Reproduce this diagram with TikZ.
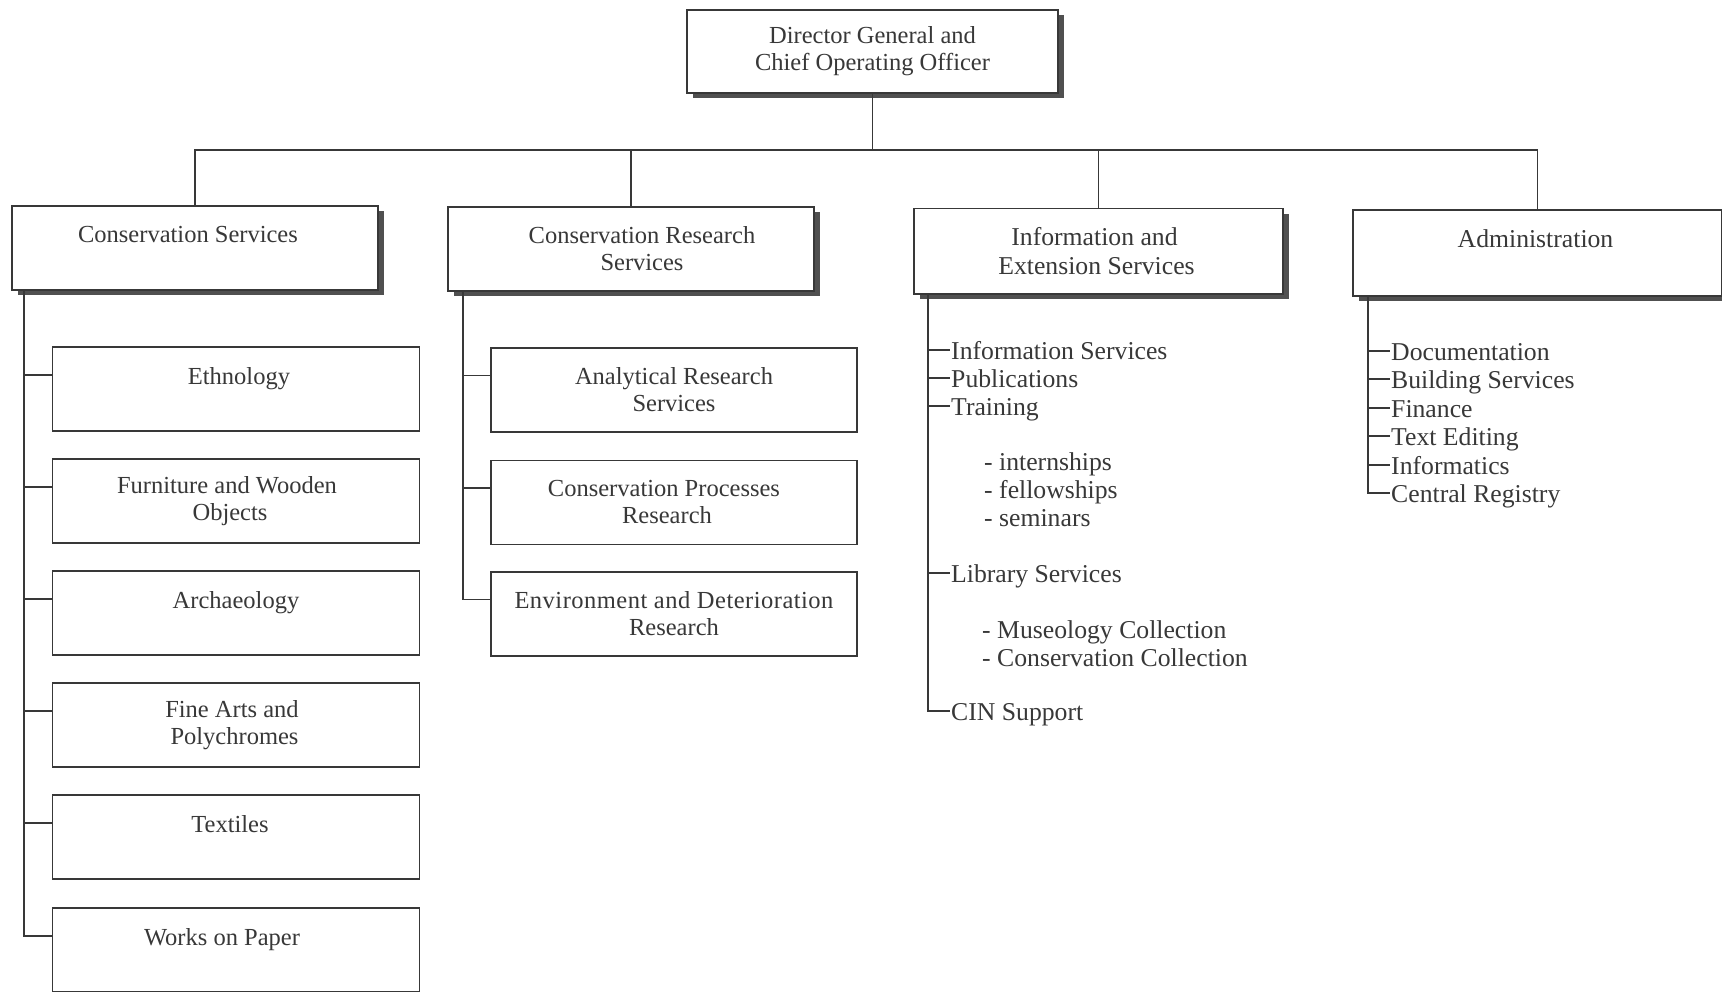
\documentclass[tikz,border=0pt]{standalone}
\usepackage{fontspec}
\setmainfont{Liberation Serif}
\usetikzlibrary{shadows}
\definecolor{ink}{HTML}{383838}
\definecolor{shade}{HTML}{505050}
\begin{document}
\begin{tikzpicture}[x=1pt,y=-1pt,
  every node/.style={text=ink, font=\fontsize{24.5}{27}\selectfont},
  big/.style={font=\fontsize{25.7}{28.5}\selectfont},
  unit/.style={draw=ink, line width=1.5pt, fill=white, minimum width=366pt, minimum height=84pt, align=center, inner sep=0pt},
  head/.style={unit, drop shadow={shadow xshift=6pt, shadow yshift=-5pt, fill=shade, opacity=1}},
  item/.style={big, anchor=west, inner xsep=1pt, inner ysep=0pt, text height=18pt, text depth=0pt},
  link/.style={draw=ink, line width=1.5pt}]
\useasboundingbox (0,0) rectangle (1722,991);
\clip (0,0) rectangle (1722,991);

% top
\node[head, minimum width=371pt, minimum height=83pt] (dir) at (872.5,51.5) {Director General and\\Chief Operating Officer};

% level 1
\node[head] (cs) at (195,248) {\hspace*{-14pt}Conservation Services\\\mbox{}};
\node[head] (crs) at (631,249) {\hspace*{22pt}Conservation Research\\\hspace*{22pt}Services};
\node[head, big, minimum width=369pt, minimum height=85.5pt] (ies) at (1098.5,251.3) {\hspace*{-8pt}Information and\\\hspace*{-4pt}Extension Services};
\node[head, big, minimum width=369pt, minimum height=86pt] (adm) at (1537.5,253) {\hspace*{-4pt}Administration\\\mbox{}};

\coordinate (bus) at (872.5,150);
\draw[link] (dir.south) -- (bus);
\draw[link] (cs.north) |- (bus) -| (adm.north);
\draw[link] (crs.north) -- (crs.north |- bus);
\draw[link] (ies.north) -- (ies.north |- bus);

% Conservation Services
\node[unit, minimum width=367pt] (eth) at (236,389) {\hspace*{6pt}Ethnology\\\mbox{}};
\node[unit, minimum width=367pt] (fur) at (236,501) {\hspace*{-18pt}Furniture and Wooden\\\hspace*{-12pt}Objects};
\node[unit, minimum width=367pt] (arc) at (236,613) {Archaeology\\\mbox{}};
\node[unit, minimum width=367pt] (fin) at (236,725) {\hspace*{-8pt}Fine Arts and\\\hspace*{-3pt}Polychromes};
\node[unit, minimum width=367pt] (tex) at (236,837) {\hspace*{-12pt}Textiles\\\mbox{}};
\node[unit, minimum width=367pt] (wop) at (236,950) {\hspace*{-28pt}Works on Paper\\\mbox{}};
\coordinate (csv) at (24,290);
\foreach \n in {eth,fur,arc,fin,tex,wop}{\coordinate (\n-in) at ([yshift=14pt]\n.west);}
\draw[link] (csv) |- (wop-in);
\foreach \n in {eth,fur,arc,fin,tex}{\draw[link] (csv |- \n-in) -- (\n-in);}

% Conservation Research Services
\node[unit] (ars) at (674,390) {Analytical Research\\Services};
\node[unit] (cpr) at (674,502.5) {\hspace*{-20pt}Conservation Processes\\\hspace*{-14pt}Research};
\node[unit] (edr) at (674,614) {\addfontfeature{LetterSpace=2}Environment and Deterioration\\Research};
\coordinate (crsv) at (463,291);
\foreach \n in {ars,cpr,edr}{\coordinate (\n-in) at ([yshift=14.5pt]\n.west);}
\draw[link] (crsv) |- (edr-in);
\foreach \n in {ars,cpr}{\draw[link] (crsv |- \n-in) -- (\n-in);}

% Information and Extension Services
\node[item] (is1) at (950,350) {Information Services};
\node[item] (pub) at (950,378) {Publications};
\node[item] (trn) at (950,406) {Training};
\node[item] (int) at (983,461) {- internships};
\node[item] (fel) at (983,489) {- fellowships};
\node[item] (sem) at (983,517) {- seminars};
\node[item] (lib) at (950,573) {Library Services};
\node[item] (mus) at (981,629) {- Museology Collection};
\node[item] (cco) at (981,657) {- Conservation Collection};
\node[item] (cin) at (950,711) {CIN Support};
\coordinate (iesv) at (928,294);
\draw[link] (iesv) |- (cin.west);
\foreach \n in {is1,pub,trn,lib}{\draw[link] (iesv |- \n.west) -- (\n.west);}

% Administration
\node[item] (doc) at (1390,351) {Documentation};
\node[item] (bld) at (1390,379) {Building Services};
\node[item] (fnc) at (1390,408) {Finance};
\node[item] (ted) at (1390,436) {Text Editing};
\node[item] (inf) at (1390,465) {Informatics};
\node[item] (reg) at (1390,493) {Central Registry};
\coordinate (admv) at (1368,296);
\draw[link] (admv) |- (reg.west);
\foreach \n in {doc,bld,fnc,ted,inf}{\draw[link] (admv |- \n.west) -- (\n.west);}
\end{tikzpicture}
\end{document}
